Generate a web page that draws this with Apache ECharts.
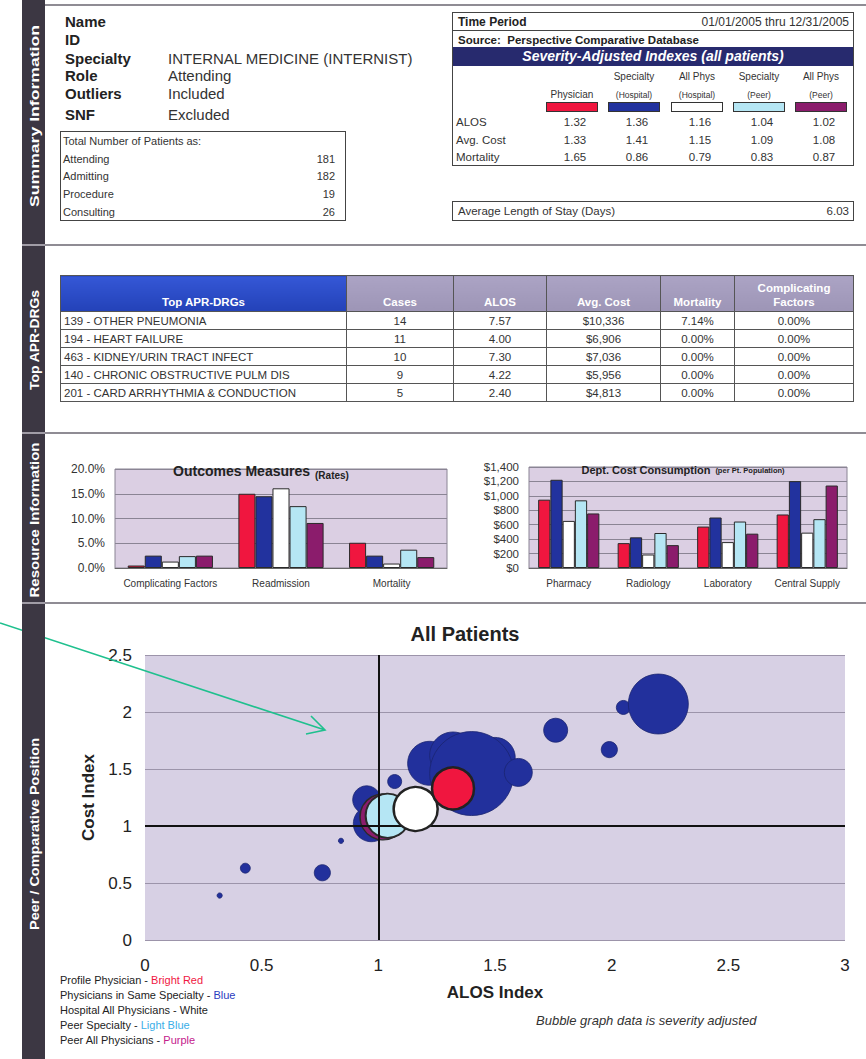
<!DOCTYPE html>
<html><head><meta charset="utf-8"><title>Physician Profile</title>
<script src="https://cdn.jsdelivr.net/npm/echarts@6.0.0/dist/echarts.min.js"></script>
<style>
*{box-sizing:border-box}
body{margin:0;width:866px;height:1059px;position:relative;background:#fff;font-family:"Liberation Sans",Arial,Helvetica,sans-serif;color:#222;overflow:hidden}
.a{position:absolute;white-space:nowrap}
.sep{position:absolute;left:45px;width:821px;height:2px;background:#8f8c94}
.box{position:absolute;border:1px solid #444}
#drg{position:absolute;left:60px;top:275px;border-collapse:collapse;table-layout:fixed;font-size:11.5px;color:#333}
#drg td,#drg th{border:1px solid #555;padding:0 3px;height:18px;text-align:center;white-space:nowrap}
#drg th{height:36px;color:#fff;font-weight:bold;vertical-align:bottom;padding-bottom:2px;background:linear-gradient(#aba3c4,#9d95b6);font-size:11.5px;line-height:14px}
#drg th.first{background:linear-gradient(#3557d6,#2342b8)}
#drg td.first{text-align:left}
.chart{position:absolute}
</style></head><body>

<div id="page"></div>
<div id="c1" class="chart" style="left:45px;top:437px;width:410px;height:166px"></div>
<div id="c2" class="chart" style="left:455px;top:437px;width:411px;height:166px"></div>
<div id="c3" class="chart" style="left:45px;top:606px;width:821px;height:453px"></div>

<svg id="arrow" width="866" height="1059" style="position:absolute;left:0;top:0;z-index:2;pointer-events:none">
  <path d="M0,623 L325,730 M311,716 L325,730 L306,734" fill="none" stroke="#1fc08e" stroke-width="1.6"/>
</svg>
<svg id="sidebar" width="866" height="1059" style="position:absolute;left:0;top:0;z-index:3;pointer-events:none"></svg>

<script>
// ---------- DATA ----------
const sectionNames = ['Summary Information','Top APR-DRGs','Resource Information','Peer / Comparative Position'];
const summaryLabels = ['Name','ID','Specialty','Role','Outliers','SNF'];
const summaryValues = ['','','INTERNAL MEDICINE (INTERNIST)','Attending','Included','Excluded'];
const patientTitle = 'Total Number of Patients as:';
const patientRoles = ['Attending','Admitting','Procedure','Consulting'];
const patientCounts = [181,182,19,26];
const timePeriod = '01/01/2005 thru 12/31/2005';
const sourceText = 'Source:  Perspective Comparative Database';
const indexTitle = 'Severity-Adjusted Indexes (all patients)';
const indexHeaderTop = ['','Specialty','All Phys','Specialty','All Phys'];
const indexHeaderBottom = ['Physician','(Hospital)','(Hospital)','(Peer)','(Peer)'];
const indexRowNames = ['ALOS','Avg. Cost','Mortality'];
const indexPhysician = [1.32,1.33,1.65];
const indexSpecialtyHosp = [1.36,1.41,0.86];
const indexAllPhysHosp = [1.16,1.15,0.79];
const indexSpecialtyPeer = [1.04,1.09,0.83];
const indexAllPhysPeer = [1.02,1.08,0.87];
const avgLengthOfStay = 6.03;
const drgHeaders = ['Top APR-DRGs','Cases','ALOS','Avg. Cost','Mortality','Complicating<br>Factors'];
const drgNames = ['139 - OTHER PNEUMONIA','194 - HEART FAILURE','463 - KIDNEY/URIN TRACT INFECT','140 - CHRONIC OBSTRUCTIVE PULM DIS','201 - CARD ARRHYTHMIA & CONDUCTION'];
const drgCases = [14,11,10,9,5];
const drgAlos = [7.57,4.00,7.30,4.22,2.40];
const drgCost = [10336,6906,7036,5956,4813];
const drgMortality = [7.14,0,0,0,0];
const drgComplicating = [0,0,0,0,0];

const groupNames = ['Physician','Specialty (Hospital)','All Phys (Hospital)','Specialty (Peer)','All Phys (Peer)'];
const outcomeCategories = ['Complicating Factors','Readmission','Mortality'];
const outcomePhysician = [0.5,15.0,5.1];
const outcomeSpecialtyHosp = [2.5,14.5,2.5];
const outcomeAllPhysHosp = [1.3,16.1,0.9];
const outcomeSpecialtyPeer = [2.4,12.5,3.7];
const outcomeAllPhysPeer = [2.5,9.1,2.2];

const costCategories = ['Pharmacy','Radiology','Laboratory','Central Supply'];
const costPhysician = [947,345,574,742];
const costSpecialtyHosp = [1223,425,700,1204];
const costAllPhysHosp = [653,187,359,490];
const costSpecialtyPeer = [938,485,644,677];
const costAllPhysPeer = [756,317,476,1143];

// bubbles: [ALOS index, Cost index, patient volume]
const bubbleSpecialty = [
  [0.32,0.39,2.5],[0.43,0.63,9],[0.76,0.59,24],[0.84,0.87,2.5],
  [0.97,1.02,119],[0.95,1.23,72],[1.07,1.39,18],[1.22,1.55,178],
  [1.32,1.62,200],[1.50,1.60,150],
  [1.40,1.46,648],[1.60,1.47,72],[1.76,1.84,53],[1.99,1.67,24],
  [2.05,2.04,18],[2.20,2.07,330]
];
const bubblePeerAll = [[1.02,1.08,194]];
const bubblePeerSpecialty = [[1.04,1.09,178]];
const bubbleHospitalAll = [[1.16,1.15,178]];
const bubblePhysician = [[1.32,1.33,162]];
const bubbleLegend = [
  ['Profile Physician - ','Bright Red'],
  ['Physicians in Same Specialty - ','Blue'],
  ['Hospital All Physicians - White',''],
  ['Peer Specialty - ','Light Blue'],
  ['Peer All Physicians - ','Purple']
];
const bubbleNote = 'Bubble graph data is severity adjusted';

// ---------- STYLE / LAYOUT ----------
const FONT = '"Liberation Sans", Arial, sans-serif';
const groupColors = ['#f0163f','#22329e','#ffffff','#b5e6f4','#8b1c6c'];
const legendColors = ['#f0163f','#2a3bc0','#222','#3aaee8','#c4208c'];
const page = document.getElementById('page');
function add(html){ page.insertAdjacentHTML('beforeend', html); }

// sidebar
(function(){
  const svg = document.getElementById('sidebar');
  const spans = [[116,182],[340,100],[520,155],[834,192]];
  let s = '<rect x="22" y="0" width="23" height="1059" fill="#3c3743"/>';
  [244,432,602].forEach(y=>{ s += `<rect x="22" y="${y}" width="23" height="2" fill="#a09ca6"/>`; });
  sectionNames.forEach((n,i)=>{
    const [cy,len] = spans[i];
    s += `<text x="34" y="${cy}" transform="rotate(-90 34 ${cy})" text-anchor="middle" dominant-baseline="central" textLength="${len}" lengthAdjust="spacingAndGlyphs" font-family='${FONT}' font-size="13" font-weight="bold" fill="#fff">${n}</text>`;
  });
  svg.innerHTML = s;
})();

// separators
[4,244,432,602].forEach(y=>add(`<div class="sep" style="top:${y}px"></div>`));

// summary block
const summaryY = [22,40,59,76,94,115];
summaryLabels.forEach((l,i)=>{
  add(`<div class="a" style="left:65px;top:${summaryY[i]-9}px;font-size:15px;line-height:18px;font-weight:bold">${l}</div>`);
  if (summaryValues[i]) add(`<div class="a" style="left:168px;top:${summaryY[i]-9}px;font-size:15px;line-height:18px;color:#333">${summaryValues[i]}</div>`);
});
add(`<div class="box" style="left:60px;top:131px;width:286px;height:90px"></div>`);
add(`<div class="a" style="left:63px;top:134px;font-size:11px;line-height:14px;color:#333">${patientTitle}</div>`);
const patY = [159,176,194,212];
patientRoles.forEach((r,i)=>{
  add(`<div class="a" style="left:63px;top:${patY[i]-7}px;font-size:11px;line-height:14px;color:#333">${r}</div>`);
  add(`<div class="a" style="left:280px;width:55px;text-align:right;top:${patY[i]-7}px;font-size:11px;line-height:14px;color:#333">${patientCounts[i]}</div>`);
});

// index panel
add(`<div class="box" style="left:452px;top:12px;width:402px;height:154px;border-width:1px"></div>`);
add(`<div class="a" style="left:458px;top:15px;font-size:12px;line-height:15px;font-weight:bold">Time Period</div>`);
add(`<div class="a" style="left:650px;width:199px;text-align:right;top:15px;font-size:12px;line-height:15px;color:#333">${timePeriod}</div>`);
add(`<div class="a" style="left:452px;top:30px;width:402px;height:1px;background:#444"></div>`);
add(`<div class="a" style="left:458px;top:33px;font-size:11.5px;line-height:15px;font-weight:bold;white-space:pre">${sourceText}</div>`);
add(`<div class="a" style="left:453px;top:47px;width:400px;height:19px;background:#272a6e;color:#fff;font-size:14px;line-height:19px;font-weight:bold;font-style:italic;text-align:center">${indexTitle}</div>`);
const idxCenters = [572,634,697,759,821];
const idxCols = [indexPhysician,indexSpecialtyHosp,indexAllPhysHosp,indexSpecialtyPeer,indexAllPhysPeer];
const idxRowY = [122,140,157];
idxCenters.forEach((cx,j)=>{
  if (indexHeaderTop[j]) add(`<div class="a" style="left:${cx-40}px;width:80px;text-align:center;top:71px;font-size:10px;line-height:12px;color:#333">${indexHeaderTop[j]}</div>`);
  const fs = j===0 ? 10 : 8.5;
  add(`<div class="a" style="left:${cx-40}px;width:80px;text-align:center;top:89px;font-size:${fs}px;line-height:12px;color:#333">${indexHeaderBottom[j]}</div>`);
  add(`<div class="a" style="left:${cx-26}px;top:102px;width:52px;height:10px;background:${groupColors[j]};border:1.5px solid #333"></div>`);
  idxRowY.forEach((y,i)=>{
    add(`<div class="a" style="left:${cx-30}px;width:66px;text-align:center;top:${y-7}px;font-size:11.5px;line-height:14px;color:#333">${idxCols[j][i].toFixed(2)}</div>`);
  });
});
indexRowNames.forEach((n,i)=>add(`<div class="a" style="left:456px;top:${idxRowY[i]-7}px;font-size:11.5px;line-height:14px;color:#333">${n}</div>`));
add(`<div class="box" style="left:452px;top:201px;width:402px;height:20px"></div>`);
add(`<div class="a" style="left:458px;top:204px;font-size:11.5px;line-height:14px;color:#333">Average Length of Stay (Days)</div>`);
add(`<div class="a" style="left:780px;width:69px;text-align:right;top:204px;font-size:11.5px;line-height:14px;color:#333">${avgLengthOfStay.toFixed(2)}</div>`);

// DRG table
(function(){
  const widths = [286,107,93,114,74,119];
  let h = '<table id="drg"><colgroup>' + widths.map(w=>`<col style="width:${w}px">`).join('') + '</colgroup><tr>';
  drgHeaders.forEach((t,i)=>{ h += `<th class="${i===0?'first':''}">${t}</th>`; });
  h += '</tr>';
  drgNames.forEach((n,i)=>{
    h += `<tr><td class="first">${n}</td><td>${drgCases[i]}</td><td>${drgAlos[i].toFixed(2)}</td><td>$${drgCost[i].toLocaleString('en-US')}</td><td>${drgMortality[i].toFixed(2)}%</td><td>${drgComplicating[i].toFixed(2)}%</td></tr>`;
  });
  h += '</table>';
  add(h);
})();

// bubble legend & note
const legY = [980,995,1010,1025,1040];
bubbleLegend.forEach((l,i)=>{
  add(`<div class="a" style="left:60px;top:${legY[i]-7}px;font-size:11px;line-height:14px;color:#222;z-index:4">${l[0]}<span style="color:${legendColors[i]}">${l[1]}</span></div>`);
});
add(`<div class="a" style="left:536px;top:1013px;font-size:13px;line-height:16px;font-style:italic;color:#333;z-index:4">${bubbleNote}</div>`);

// ---------- CHARTS ----------
function barSeries(cols){
  return cols.map((d,i)=>({
    name: groupNames[i], type:'bar', data:d, barGap:0, barCategoryGap:'23%',
    itemStyle:{color:groupColors[i], borderColor:'#2a2a2a', borderWidth:1}
  }));
}

const c1 = echarts.init(document.getElementById('c1'), null, {renderer:'svg'});
c1.setOption({
  animation:false,
  title:{text:'{a|Outcomes Measures} {b|(Rates)}', left:211, top:20, textAlign:'center',
    textStyle:{rich:{a:{fontSize:14,fontWeight:'bold',color:'#222',fontFamily:FONT},b:{fontSize:10,fontWeight:'bold',color:'#222',fontFamily:FONT,verticalAlign:'bottom'}}}},
  grid:{left:70,top:32,width:332,height:99,show:true,backgroundColor:'#dbcfe3',borderColor:'#8a8494',borderWidth:1,outerBoundsMode:'none'},
  xAxis:{type:'category',data:outcomeCategories,axisTick:{show:false},axisLine:{lineStyle:{color:'#666'}},
    axisLabel:{interval:0,fontSize:10,color:'#333',margin:10,fontFamily:FONT}},
  yAxis:{type:'value',min:0,max:20,interval:5,axisLine:{show:false},axisTick:{show:false},
    axisLabel:{formatter:v=>v.toFixed(1)+'%',fontSize:12,color:'#333',margin:10,fontFamily:FONT},
    splitLine:{lineStyle:{color:'#8a8494'}}},
  series: barSeries([outcomePhysician,outcomeSpecialtyHosp,outcomeAllPhysHosp,outcomeSpecialtyPeer,outcomeAllPhysPeer])
});

const c2 = echarts.init(document.getElementById('c2'), null, {renderer:'svg'});
c2.setOption({
  animation:false,
  title:{text:'{a|Dept. Cost Consumption} {b|(per Pt. Population)}', left:223, top:19, textAlign:'center',
    textStyle:{rich:{a:{fontSize:11,fontWeight:'bold',color:'#222',fontFamily:FONT},b:{fontSize:7.5,fontWeight:'bold',color:'#222',fontFamily:FONT}}}},
  grid:{left:74,top:30,width:318,height:101,show:true,backgroundColor:'#dbcfe3',borderColor:'#8a8494',borderWidth:1,outerBoundsMode:'none'},
  xAxis:{type:'category',data:costCategories,axisTick:{show:false},axisLine:{lineStyle:{color:'#666'}},
    axisLabel:{interval:0,fontSize:10,color:'#333',margin:10,fontFamily:FONT}},
  yAxis:{type:'value',min:0,max:1400,interval:200,axisLine:{show:false},axisTick:{show:false},
    axisLabel:{formatter:v=>'$'+v.toLocaleString('en-US'),fontSize:11.5,color:'#333',margin:10,fontFamily:FONT},
    splitLine:{lineStyle:{color:'#8a8494'}}},
  series: barSeries([costPhysician,costSpecialtyHosp,costAllPhysHosp,costSpecialtyPeer,costAllPhysPeer])
});

const bubbleSize = d => Math.sqrt(d[2]) * 3.3;
function bubbleSeries(name, data, color, border, bw, z){
  return {name, type:'scatter', data, symbolSize:bubbleSize, z,
    itemStyle:{color, borderColor:border, borderWidth:bw, opacity:1}};
}
const c3 = echarts.init(document.getElementById('c3'), null, {renderer:'svg'});
c3.setOption({
  animation:false,
  title:{text:'All Patients', left:415, top:13, textAlign:'center',
    textStyle:{fontSize:20,fontWeight:'bold',color:'#222',fontFamily:FONT}},
  grid:{left:100,top:49,width:700,height:285,show:true,backgroundColor:'#d7d0e4',borderWidth:0,outerBoundsMode:'none'},
  xAxis:{type:'value',min:0,max:3,interval:0.5,name:'ALOS Index',nameLocation:'middle',nameGap:44,
    nameTextStyle:{fontSize:17,fontWeight:'bold',color:'#222',fontFamily:FONT},
    axisLine:{show:false},axisTick:{show:false},splitLine:{show:false},
    axisLabel:{fontSize:17,color:'#222',margin:17,fontFamily:FONT}},
  yAxis:{type:'value',min:0,max:2.5,interval:0.5,name:'Cost Index',nameLocation:'middle',nameGap:48,
    nameTextStyle:{fontSize:17,fontWeight:'bold',color:'#222',fontFamily:FONT},
    axisLine:{show:false},axisTick:{show:false},
    splitLine:{lineStyle:{color:'#9c94aa'}},
    axisLabel:{fontSize:17,color:'#222',margin:13,fontFamily:FONT}},
  series:[
    {type:'scatter', data:[], z:1, markLine:{silent:true, symbol:'none', animation:false,
      lineStyle:{color:'#111', width:2, type:'solid'}, label:{show:false},
      data:[{xAxis:1},{yAxis:1}]}},
    bubbleSeries('Physicians in Same Specialty', bubbleSpecialty, '#22309c', '#1a2470', 0.8, 2),
    bubbleSeries('Peer All Physicians', bubblePeerAll, '#8b1c6c', '#2a2a2a', 1.5, 3),
    bubbleSeries('Peer Specialty', bubblePeerSpecialty, '#b5e6f4', '#2a2a2a', 2, 4),
    bubbleSeries('Hospital All Physicians', bubbleHospitalAll, '#ffffff', '#222', 2.5, 5),
    bubbleSeries('Profile Physician', bubblePhysician, '#f0163f', '#222', 2.5, 6)
  ]
});
</script>
</body></html>
